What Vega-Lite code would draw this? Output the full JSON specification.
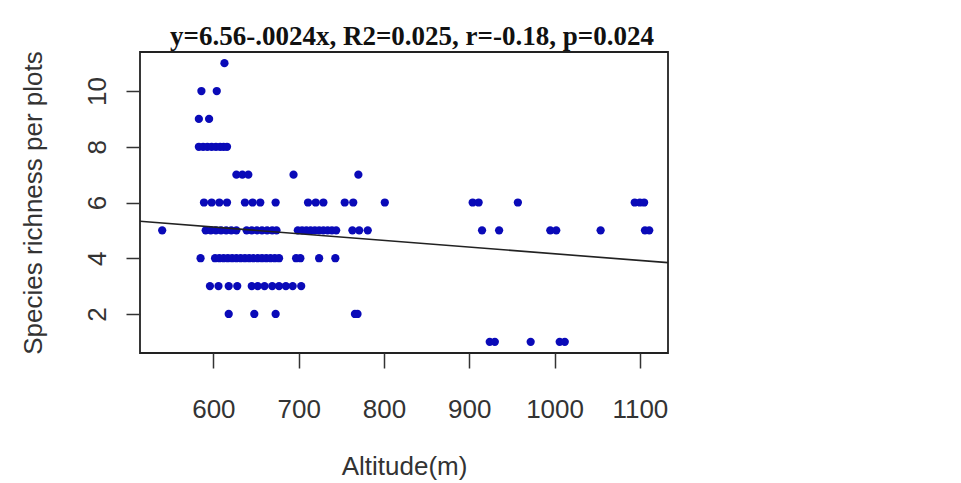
{
  "$schema": "https://vega.github.io/schema/vega-lite/v6.json",
  "width": 528,
  "height": 301,
  "autosize": {"type": "none"},
  "padding": {"left": 140, "top": 52, "right": 293, "bottom": 130},
  "background": "white",
  "title": {
    "text": "y=6.56-.0024x, R2=0.025, r=-0.18, p=0.024",
    "font": "Liberation Serif",
    "fontWeight": "bold",
    "fontSize": 27,
    "color": "#111111",
    "offset": 0,
    "dx": 8,
    "anchor": "middle"
  },
  "datasets": {
    "points": [
      {"altitude": 613, "richness": 11},
      {"altitude": 586, "richness": 10}, {"altitude": 604, "richness": 10},
      {"altitude": 583, "richness": 9}, {"altitude": 595, "richness": 9},
      {"altitude": 583, "richness": 8}, {"altitude": 588, "richness": 8}, {"altitude": 593, "richness": 8}, {"altitude": 598, "richness": 8}, {"altitude": 603, "richness": 8}, {"altitude": 608, "richness": 8}, {"altitude": 612, "richness": 8}, {"altitude": 616, "richness": 8},
      {"altitude": 627, "richness": 7}, {"altitude": 634, "richness": 7}, {"altitude": 641, "richness": 7}, {"altitude": 694, "richness": 7}, {"altitude": 770, "richness": 7},
      {"altitude": 589, "richness": 6}, {"altitude": 598, "richness": 6}, {"altitude": 607, "richness": 6}, {"altitude": 616, "richness": 6}, {"altitude": 637, "richness": 6}, {"altitude": 646, "richness": 6}, {"altitude": 655, "richness": 6}, {"altitude": 673, "richness": 6}, {"altitude": 711, "richness": 6}, {"altitude": 720, "richness": 6}, {"altitude": 729, "richness": 6}, {"altitude": 754, "richness": 6}, {"altitude": 764, "richness": 6}, {"altitude": 801, "richness": 6}, {"altitude": 904, "richness": 6}, {"altitude": 911, "richness": 6}, {"altitude": 957, "richness": 6}, {"altitude": 1094, "richness": 6}, {"altitude": 1100, "richness": 6}, {"altitude": 1105, "richness": 6},
      {"altitude": 540, "richness": 5}, {"altitude": 591, "richness": 5}, {"altitude": 597, "richness": 5}, {"altitude": 603, "richness": 5}, {"altitude": 609, "richness": 5}, {"altitude": 615, "richness": 5}, {"altitude": 621, "richness": 5}, {"altitude": 627, "richness": 5}, {"altitude": 639, "richness": 5}, {"altitude": 645, "richness": 5}, {"altitude": 651, "richness": 5}, {"altitude": 657, "richness": 5}, {"altitude": 663, "richness": 5}, {"altitude": 669, "richness": 5}, {"altitude": 674, "richness": 5}, {"altitude": 699, "richness": 5}, {"altitude": 704, "richness": 5}, {"altitude": 709, "richness": 5}, {"altitude": 714, "richness": 5}, {"altitude": 719, "richness": 5}, {"altitude": 724, "richness": 5}, {"altitude": 729, "richness": 5}, {"altitude": 734, "richness": 5}, {"altitude": 739, "richness": 5}, {"altitude": 744, "richness": 5}, {"altitude": 763, "richness": 5}, {"altitude": 771, "richness": 5}, {"altitude": 781, "richness": 5}, {"altitude": 915, "richness": 5}, {"altitude": 935, "richness": 5}, {"altitude": 995, "richness": 5}, {"altitude": 1002, "richness": 5}, {"altitude": 1054, "richness": 5}, {"altitude": 1106, "richness": 5}, {"altitude": 1111, "richness": 5},
      {"altitude": 585, "richness": 4}, {"altitude": 602, "richness": 4}, {"altitude": 607, "richness": 4}, {"altitude": 612, "richness": 4}, {"altitude": 617, "richness": 4}, {"altitude": 622, "richness": 4}, {"altitude": 627, "richness": 4}, {"altitude": 632, "richness": 4}, {"altitude": 637, "richness": 4}, {"altitude": 642, "richness": 4}, {"altitude": 647, "richness": 4}, {"altitude": 652, "richness": 4}, {"altitude": 657, "richness": 4}, {"altitude": 662, "richness": 4}, {"altitude": 667, "richness": 4}, {"altitude": 672, "richness": 4}, {"altitude": 677, "richness": 4}, {"altitude": 697, "richness": 4}, {"altitude": 702, "richness": 4}, {"altitude": 724, "richness": 4}, {"altitude": 743, "richness": 4},
      {"altitude": 596, "richness": 3}, {"altitude": 606, "richness": 3}, {"altitude": 618, "richness": 3}, {"altitude": 628, "richness": 3}, {"altitude": 645, "richness": 3}, {"altitude": 652, "richness": 3}, {"altitude": 660, "richness": 3}, {"altitude": 669, "richness": 3}, {"altitude": 677, "richness": 3}, {"altitude": 685, "richness": 3}, {"altitude": 693, "richness": 3}, {"altitude": 703, "richness": 3},
      {"altitude": 618, "richness": 2}, {"altitude": 648, "richness": 2}, {"altitude": 673, "richness": 2}, {"altitude": 766, "richness": 2}, {"altitude": 769, "richness": 2},
      {"altitude": 924, "richness": 1}, {"altitude": 930, "richness": 1}, {"altitude": 972, "richness": 1}, {"altitude": 1006, "richness": 1}, {"altitude": 1012, "richness": 1}
    ],
    "fit": [
      {"altitude": 514, "richness": 5.326},
      {"altitude": 1133, "richness": 3.841}
    ]
  },
  "layer": [
    {
      "data": {"name": "points"},
      "mark": {"type": "circle", "size": 68, "color": "#0A0AB8", "opacity": 1},
      "encoding": {
        "x": {
          "field": "altitude",
          "type": "quantitative",
          "scale": {"domain": [514, 1133], "nice": false, "zero": false},
          "axis": {
            "values": [600, 700, 800, 900, 1000, 1100],
            "format": "d",
            "title": "Altitude(m)",
            "tickSize": 15,
            "labelPadding": 49,
            "labelBaseline": "alphabetic",
            "titleY": 121,
            "titleBaseline": "alphabetic"
          }
        },
        "y": {
          "field": "richness",
          "type": "quantitative",
          "scale": {"domain": [0.6, 11.4], "nice": false, "zero": false},
          "axis": {
            "values": [2, 4, 6, 8, 10],
            "format": "d",
            "title": "Species richness per plots",
            "tickSize": 14,
            "labelAngle": -90,
            "labelAlign": "center",
            "labelBaseline": "alphabetic",
            "labelPadding": 21,
            "titleX": -99,
            "titleAngle": -90,
            "titleBaseline": "alphabetic"
          }
        }
      }
    },
    {
      "data": {"name": "fit"},
      "mark": {"type": "line", "color": "#222222", "strokeWidth": 1.6, "clip": true},
      "encoding": {
        "x": {"field": "altitude", "type": "quantitative"},
        "y": {"field": "richness", "type": "quantitative"}
      }
    }
  ],
  "config": {
    "view": {"stroke": "#222222", "strokeWidth": 1.8},
    "axis": {
      "domain": false,
      "grid": false,
      "tickColor": "#333333",
      "tickWidth": 1.5,
      "labelFont": "Liberation Sans",
      "labelFontSize": 26,
      "labelColor": "#333333",
      "titleFont": "Liberation Sans",
      "titleFontSize": 26,
      "titleFontWeight": "normal",
      "titleColor": "#333333"
    }
  }
}
